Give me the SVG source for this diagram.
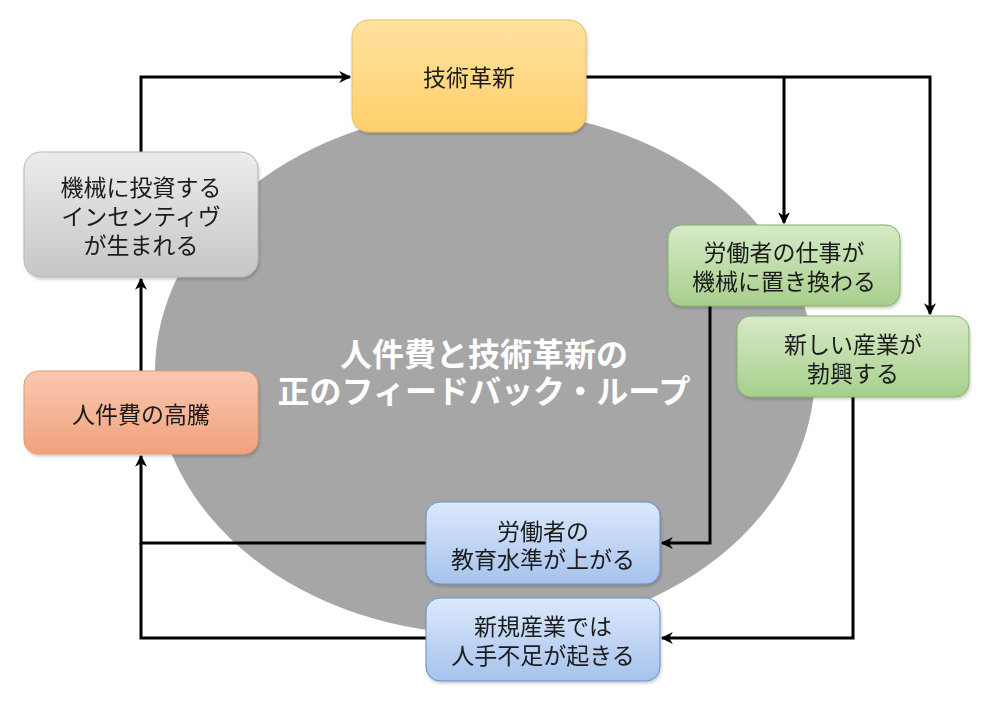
<svg xmlns="http://www.w3.org/2000/svg" width="995" height="717" viewBox="0 0 995 717">
<defs>
<style>
.t{font-family:"Noto Sans CJK JP","Noto Sans",sans-serif;font-size:23px;fill:#1a1a1a;text-anchor:middle;dominant-baseline:central}
.c{font-family:"Noto Sans CJK JP","Noto Sans",sans-serif;font-size:32px;font-weight:bold;fill:#ffffff;text-anchor:middle;dominant-baseline:central}
.e{fill:none;stroke:#000;stroke-width:3}
</style>
<linearGradient id="gy" x1="0" y1="0" x2="0" y2="1"><stop offset="0" stop-color="#ffe2a0"/><stop offset="1" stop-color="#ffd06c"/></linearGradient>
<linearGradient id="gg" x1="0" y1="0" x2="0" y2="1"><stop offset="0" stop-color="#ececec"/><stop offset="1" stop-color="#c6c6c6"/></linearGradient>
<linearGradient id="go" x1="0" y1="0" x2="0" y2="1"><stop offset="0" stop-color="#f9c8b0"/><stop offset="1" stop-color="#f1a27d"/></linearGradient>
<linearGradient id="gn" x1="0" y1="0" x2="0" y2="1"><stop offset="0" stop-color="#d7eac8"/><stop offset="1" stop-color="#a7cf8b"/></linearGradient>
<linearGradient id="gb" x1="0" y1="0" x2="0" y2="1"><stop offset="0" stop-color="#dce9fc"/><stop offset="1" stop-color="#a6c2ec"/></linearGradient>
<filter id="sh" x="-10%" y="-10%" width="120%" height="130%"><feDropShadow dx="1" dy="2" stdDeviation="1.5" flood-color="#000" flood-opacity="0.2"/></filter>
<marker id="ar" viewBox="0 0 10 10" refX="9" refY="5" markerWidth="13" markerHeight="12" markerUnits="userSpaceOnUse" orient="auto"><path d="M0,0 L10,5 L0,10 L3,5 z" fill="#000"/></marker>
</defs>
<rect width="995" height="717" fill="#ffffff"/>
<g id="loop">
<ellipse cx="485" cy="372" rx="330" ry="262" fill="#a6a6a6"/>
<text class="c" x="484" y="352">人件費と技術革新の</text>
<text class="c" x="484" y="389">正のフィードバック・ループ</text>
</g>
<g id="connectors">
<path class="e" d="M141,152 V77 H350" marker-end="url(#ar)"/>
<path class="e" d="M586,77 H930 V314" marker-end="url(#ar)"/>
<path class="e" d="M784,77 V223" marker-end="url(#ar)"/>
<path class="e" d="M710,306 V543 H662" marker-end="url(#ar)"/>
<path class="e" d="M853,397 V638 H662" marker-end="url(#ar)"/>
<path class="e" d="M426,543 H141 V456" marker-end="url(#ar)"/>
<path class="e" d="M426,638 H141 V543"/>
<path class="e" d="M141,371 V279" marker-end="url(#ar)"/>
</g>
<g id="n1" filter="url(#sh)">
<rect x="352" y="20" width="234" height="112" rx="17" fill="url(#gy)" stroke="#e3bf5c"/>
<text class="t" x="469" y="76">技術革新</text>
</g>
<g id="n2" filter="url(#sh)">
<rect x="24" y="152" width="234" height="125" rx="17" fill="url(#gg)" stroke="#b5b5b5"/>
<text class="t" x="141" y="186">機械に投資する</text>
<text class="t" x="141" y="215">インセンティヴ</text>
<text class="t" x="141" y="244">が生まれる</text>
</g>
<g id="n3" filter="url(#sh)">
<rect x="24" y="371" width="234" height="83" rx="14" fill="url(#go)" stroke="#e49a74"/>
<text class="t" x="141" y="413">人件費の高騰</text>
</g>
<g id="n4" filter="url(#sh)">
<rect x="668" y="225" width="232" height="81" rx="14" fill="url(#gn)" stroke="#82b366"/>
<text class="t" x="784" y="251">労働者の仕事が</text>
<text class="t" x="784" y="280">機械に置き換わる</text>
</g>
<g id="n5" filter="url(#sh)">
<rect x="737" y="316" width="232" height="81" rx="14" fill="url(#gn)" stroke="#82b366"/>
<text class="t" x="853" y="343">新しい産業が</text>
<text class="t" x="853" y="372">勃興する</text>
</g>
<g id="n6" filter="url(#sh)">
<rect x="426" y="502" width="234" height="82" rx="14" fill="url(#gb)" stroke="#6c8ebf"/>
<text class="t" x="543" y="530">労働者の</text>
<text class="t" x="543" y="558">教育水準が上がる</text>
</g>
<g id="n7" filter="url(#sh)">
<rect x="426" y="598" width="234" height="83" rx="14" fill="url(#gb)" stroke="#6c8ebf"/>
<text class="t" x="543" y="625">新規産業では</text>
<text class="t" x="543" y="654">人手不足が起きる</text>
</g>
</svg>
